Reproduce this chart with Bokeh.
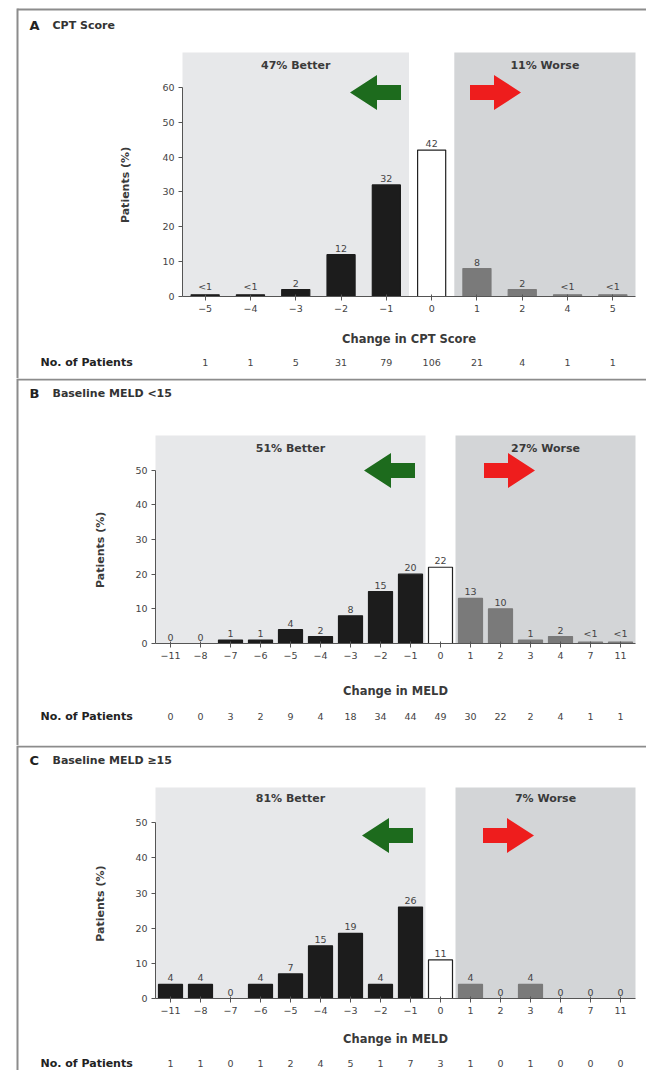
from bokeh.plotting import figure
from bokeh.models import FixedTicker, Range1d, ColumnDataSource
from bokeh.layouts import column
from bokeh.embed import file_html
from bokeh.resources import INLINE
from bokeh.core.properties import value

# ---------------- data ----------------
cpt_ticks = ["\u22125", "\u22124", "\u22123", "\u22122", "\u22121", "0", "1", "2", "4", "5"]
cpt_pct = [0.5, 0.5, 2, 12, 32, 42, 8, 2, 0.5, 0.5]
cpt_lbl = ["<1", "<1", "2", "12", "32", "42", "8", "2", "<1", "<1"]
cpt_n = [1, 1, 5, 31, 79, 106, 21, 4, 1, 1]

meld_ticks = ["\u221211", "\u22128", "\u22127", "\u22126", "\u22125", "\u22124", "\u22123", "\u22122",
              "\u22121", "0", "1", "2", "3", "4", "7", "11"]
low_pct = [0, 0, 1, 1, 4, 2, 8, 15, 20, 22, 13, 10, 1, 2, 0.4, 0.4]
low_lbl = ["0", "0", "1", "1", "4", "2", "8", "15", "20", "22", "13", "10", "1", "2", "<1", "<1"]
low_n = [0, 0, 3, 2, 9, 4, 18, 34, 44, 49, 30, 22, 2, 4, 1, 1]

high_pct = [4, 4, 0, 4, 7, 15, 18.5, 4, 26, 11, 4, 0, 4, 0, 0, 0]
high_lbl = ["4", "4", "0", "4", "7", "15", "19", "4", "26", "11", "4", "0", "4", "0", "0", "0"]
high_n = [1, 1, 0, 1, 2, 4, 5, 1, 7, 3, 1, 0, 1, 0, 0, 0]

FONT = "DejaVu Sans"
W = 646
TXT = "#444444"
BORDER = "#8c8c8c"


def make_panel(letter, title, ticks, pct, lbls, counts, better_txt, worse_txt, xlabel,
               y_axis_max, y_top, H, FT, FB, FL, bar_w, zero_idx, top_border,
               title_sy, npat_sy, region_sy, arrow_sy, green_sx, red_sx, xlab_sy, ylab_sx):
    n = len(ticks)
    FR = W - 11
    pxx = (FR - FL) / n
    pxy = (FB - FT) / y_top

    def dx(sx):
        return -0.5 + (sx - FL) / pxx

    def dy(sy):
        return (FB - sy) / pxy

    p = figure(width=W, height=H, x_range=Range1d(dx(0), dx(W)), y_range=Range1d(dy(H), dy(0)),
               output_backend="svg", toolbar_location=None,
               min_border_left=0, min_border_right=0, min_border_top=0, min_border_bottom=0)
    p.title.visible = False
    p.outline_line_color = None
    p.grid.visible = False
    p.background_fill_color = "white"
    p.border_fill_color = "white"

    x0, x1 = -0.5, n - 0.5

    # shaded regions
    p.quad(left=[x0, zero_idx + 0.5], right=[zero_idx - 0.5, x1], bottom=[0, 0], top=[y_top, y_top],
           fill_color=["#e7e8ea", "#d3d5d7"], line_color=None)

    # bars
    idx = list(range(n))
    fills = ["#1c1c1c" if i < zero_idx else ("white" if i == zero_idx else "#7a7a7a") for i in idx]
    lines = ["#1c1c1c" if i < zero_idx else ("#222222" if i == zero_idx else "#7a7a7a") for i in idx]
    lalpha = [0 if (pct[i] == 0 and i != zero_idx) else 1 for i in idx]
    src = ColumnDataSource(dict(x=idx, top=pct, lbl=lbls, fill=fills, line=lines, la=lalpha,
                                cnt=[str(c) for c in counts], ny=[dy(npat_sy)] * n))
    p.vbar(x="x", top="top", width=bar_w, source=src, fill_color="fill", line_color="line",
           line_alpha="la", line_width=1.2)
    p.text(x="x", y="top", text="lbl", source=src, text_align="center", text_baseline="bottom",
           y_offset=-3, text_font=value(FONT), text_font_size="9.5px", text_color=TXT)

    # region labels
    p.text(x=[(x0 + zero_idx - 0.5) / 2, (zero_idx + 0.5 + x1) / 2], y=[dy(region_sy)] * 2,
           text=[better_txt, worse_txt], text_align="center", text_baseline="middle",
           text_font=value(FONT), text_font_size="11px", text_font_style="bold", text_color="#3a3a3a")

    # arrows
    L, HL, HH, BH = 51, 27, 17.5, 7.5

    def arrow(cx, cy, direction, color):
        pts = [(-L / 2, 0), (-L / 2 + HL, -HH), (-L / 2 + HL, -BH), (L / 2, -BH),
               (L / 2, BH), (-L / 2 + HL, BH), (-L / 2 + HL, HH)]
        xs = [dx(cx + direction * a) for a, b in pts]
        ys = [dy(cy + b) for a, b in pts]
        p.patch(xs, ys, fill_color=color, line_color=None)

    arrow(green_sx, arrow_sy, 1, "#1d6b1d")
    arrow(red_sx, arrow_sy, -1, "#ee1d1d")

    # axes (fixed inside the full-canvas frame)
    xa = p.xaxis[0]
    ya = p.yaxis[0]
    xa.fixed_location = 0
    ya.fixed_location = x0
    xa.bounds = (x0, x1)
    xa.ticker = FixedTicker(ticks=idx)
    xa.major_label_overrides = {i: t for i, t in enumerate(ticks)}
    ya.ticker = FixedTicker(ticks=list(range(0, y_axis_max + 1, 10)))
    ya.bounds = (0, y_axis_max)
    for ax in (xa, ya):
        ax.axis_line_color = "#555555"
        ax.major_tick_line_color = "#555555"
        ax.minor_tick_line_color = None
        ax.major_tick_in = 2
        ax.major_tick_out = 4
        ax.major_label_text_font = FONT
        ax.major_label_text_font_size = "9.5px"
        ax.major_label_text_color = TXT
        ax.major_label_standoff = 4
    ya.major_tick_in = 0

    # axis titles
    p.text(x=[(x0 + x1) / 2], y=[dy(xlab_sy)], text=[xlabel], text_align="center",
           text_baseline="middle", text_font=value(FONT), text_font_size="11.5px",
           text_font_style="bold", text_color="#3a3a3a")
    p.text(x=[dx(ylab_sx)], y=[y_axis_max / 2 + 2], text=["Patients (%)"], angle=1.5708,
           text_align="center", text_baseline="middle", text_font=value(FONT),
           text_font_size="11px", text_font_style="bold", text_color="#3a3a3a")

    # titles
    p.text(x=[dx(29)], y=[dy(title_sy)], text=[letter], text_baseline="middle",
           text_font=value(FONT), text_font_size="13px", text_font_style="bold", text_color="#222222")
    p.text(x=[dx(52)], y=[dy(title_sy)], text=[title], text_baseline="middle",
           text_font=value(FONT), text_font_size="11px", text_font_style="bold", text_color="#333333")

    # No. of Patients row
    p.text(x=[dx(40)], y=[dy(npat_sy)], text=["No. of Patients"], text_baseline="middle",
           text_font=value(FONT), text_font_size="11px", text_font_style="bold", text_color="#222222")
    p.text(x="x", y="ny", text="cnt", source=src, text_align="center", text_baseline="middle",
           text_font=value(FONT), text_font_size="9.5px", text_color=TXT)

    # panel borders
    p.segment(x0=[dx(17), dx(17)], y0=[dy(top_border), dy(top_border + 1)],
              x1=[dx(17), dx(W)], y1=[dy(H), dy(top_border + 1)],
              line_color=BORDER, line_width=2)
    return p


pa = make_panel("A", "CPT Score", cpt_ticks, cpt_pct, cpt_lbl, cpt_n, "47% Better", "11% Worse",
                "Change in CPT Score", 60, 70, 378, 52, 296, 182, 0.62, 5, 8,
                25, 362, 65, 92, 375, 495, 338, 125)
pb = make_panel("B", "Baseline MELD <15", meld_ticks, low_pct, low_lbl, low_n, "51% Better", "27% Worse",
                "Change in MELD", 50, 60, 367, 57, 265, 155, 0.8, 9, 0,
                15, 338, 70, 92, 389, 509, 312, 100)
pc = make_panel("C", "Baseline MELD \u226515", meld_ticks, high_pct, high_lbl, high_n, "81% Better", "7% Worse",
                "Change in MELD", 50, 60, 325, 42, 253, 155, 0.8, 9, 0,
                15, 318, 53, 90, 387, 508, 293, 100)

layout = column(pa, pb, pc, spacing=0)
open("out.html", "w").write(file_html(layout, INLINE))
